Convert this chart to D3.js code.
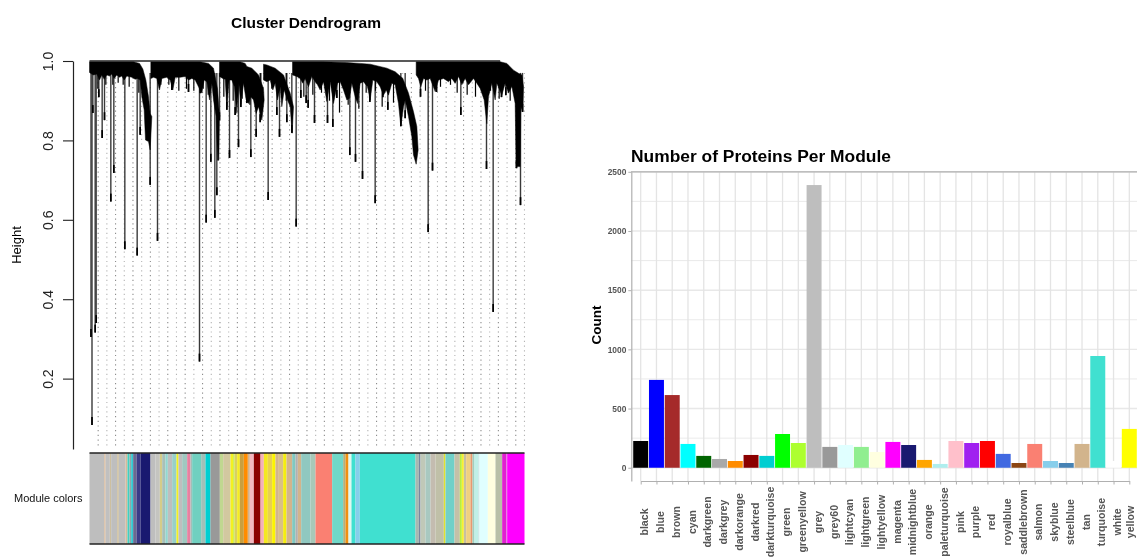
<!DOCTYPE html>
<html>
<head>
<meta charset="utf-8">
<script src="https://cdn.jsdelivr.net/npm/d3@7"></script>
<style>
  body { margin: 0; background: #fff; font-family: "Liberation Sans", sans-serif; }
  svg { display: block; filter: blur(0.35px); }
</style>
</head>
<body>
<svg id="chart" width="1137" height="557"></svg>
<script>
// module counts (right panel)
const modules = ["black","blue","brown","cyan","darkgreen","darkgrey","darkorange","darkred","darkturquoise","green","greenyellow","grey","grey60","lightcyan","lightgreen","lightyellow","magenta","midnightblue","orange","paleturquoise","pink","purple","red","royalblue","saddlebrown","salmon","skyblue","steelblue","tan","turquoise","white","yellow"]
const counts = [226,742,614,201,100,74,57,108,100,285,209,2388,176,192,176,133,218,192,66,32,226,209,226,117,40,201,57,40,201,944,57,328]
const countTicks = [0,500,1000,1500,2000,2500]
const countMinor = [250,750,1250,1750,2250]

// dendrogram: long and short drops, leaf position and lowest height
const dropLeaf = [4.5,7.5,10,17,20,28,38,45,64,73,106,143,152,182,204,247,297,332,330,350,364,376,382,390,412,420,437,447,454,472,484,500,512,536,562,570,592,607,620,634,650,656,675,714,730,742,781,798,819,841,857,880,895,934,947,993,1016,1029,1041,1114,1191,1211,1236,1249,1281,1293,1299]
const dropHeight = [.305,.083,.869,.316,.34,.909,.806,.851,.646,.718,.526,.51,.814,.688,.547,.927,.922,.919,.243,.593,.746,.605,.662,.851,.877,.756,.864,.783,.884,.894,.758,.809,.846,.65,.864,.809,.846,.819,.583,.907,.894,.882,.844,.844,.834,.907,.763,.746,.703,.897,.642,.909,.877,.836,.856,.91,.569,.724,.922,.864,.728,.368,.909,.914,.73,.637,.872]

// very short spikes under the black band
const spikeLeaf = [25,49,70,86,101,119,148,214,238,268,291,313,341,356,403,431,458,481,514,547,568,590,643,670,696,720,750,776,808,830,858,878,912,1008,1053,1083,1103,1133,1158,1203,1229,1262]
const spikeHeight = [.93,.94,.94,.945,.94,.935,.92,.94,.94,.925,.93,.925,.93,.915,.91,.9,.905,.89,.9,.93,.925,.9,.91,.915,.92,.9,.87,.89,.88,.92,.925,.885,.895,.925,.935,.94,.92,.915,.91,.925,.905,.9]

// dendrogram: outline of each black cluster, leaf position and height
const clusterALeaf = [0,0,7,12,22,30,37,44,52,60,67,74,82,90,97,104,112,127,137,144,152,157,164,168,177,182,187,182,177,169,160,150,132]
const clusterAHeight = [.998,.971,.967,.965,.967,.952,.965,.954,.965,.962,.967,.956,.965,.959,.962,.952,.962,.959,.954,.956,.952,.91,.877,.801,.797,.776,.86,.868,.91,.952,.98,.994,.998]
const clusterBLeaf = [184,184,192,202,210,217,232,242,250,257,272,287,297,307,317,327,337,344,352,360,367,372,380,384,388,390,384,372,357,332]
const clusterBHeight = [.998,.956,.959,.956,.927,.956,.959,.952,.927,.959,.959,.961,.952,.956,.952,.935,.919,.952,.948,.902,.944,.902,.86,.75,.75,.86,.93,.982,.994,.998]
const clusterCLeaf = [390,390,400,407,412,419,427,435,442,448,454,462,470,477,484,492,500,507,517,524,522,507,487,472,467,452]
const clusterCHeight = [.998,.961,.956,.954,.885,.952,.952,.935,.868,.944,.891,.944,.902,.893,.91,.902,.868,.885,.851,.902,.931,.965,.982,.986,.994,.998]
const clusterDLeaf = [522,522,532,542,550,557,564,572,577,584,594,602,608,612,602,582,557,532]
const clusterDHeight = [.992,.952,.948,.952,.927,.944,.902,.935,.885,.927,.902,.885,.818,.885,.919,.965,.982,.99]
const clusterELeaf = [609,609,622,632,640,647,657,667,677,684,692,702,712,722,732,744,752,762,772,780,787,797,804,812,822,834,842,850,862,872,882,890,897,907,917,927,934,942,947,957,967,972,980,986,982,972,957,940,917,892,842,812,772,700]
const clusterEHeight = [.998,.965,.961,.956,.944,.956,.935,.961,.948,.94,.927,.948,.898,.948,.893,.944,.948,.927,.902,.906,.944,.91,.893,.944,.948,.935,.902,.952,.948,.935,.914,.927,.914,.944,.94,.893,.835,.885,.902,.86,.809,.763,.74,.776,.835,.872,.919,.956,.973,.982,.992,.994,.996,.998]
const clusterFLeaf = [980,980,987,994,1002,1012,1022,1037,1047,1062,1077,1087,1097,1107,1117,1127,1137,1152,1162,1172,1184,1192,1197,1207,1217,1222,1237,1247,1257,1267,1277,1280,1292,1294,1300,1302,1297,1287,1272,1252,1232]
const clusterFHeight = [.998,.965,.956,.935,.956,.952,.956,.923,.952,.956,.948,.956,.944,.961,.94,.956,.94,.956,.944,.931,.902,.842,.91,.944,.902,.944,.914,.944,.919,.936,.893,.734,.734,.885,.872,.936,.965,.969,.977,.994,.998]

// module colour strip under the dendrogram, in leaf order
const stripColors = ["#bebebe","#e0b080","#c0c0c0","#cdbf9f","#bebebe","#cfc09c","#bebebe","#d4b99b","#40d0c0","#8fa8a8","#30c8d0","#6a6a90","#3a3a88","midnightblue","#bebebe","#c4c4c0","#d4cc88","#a8c0b8","#90d8d0","#bebebe","#98d0c8","#f2f020","#bebebe","#a0c8c0","#e880a0","#a0c0b8","#70d0c0","#a0c0b8","darkturquoise","#999999","#c0d890","#d2c8a0","#f4f020","#c8f040","#d8d060","#f4ec20","#c8a040","darkorange","#d2b48c","#f4b8c0","darkred","#f4b0b8","#f4e820","#e8d050","#fcf400","#d2b48c","#d8c088","#f4ec10","tan","#80c8c0","#b0b0b0","#d2b48c","#90c8c0",
  "#a8c8b8","salmon","#70d8c8","#b0b080","#f09010","#e0f8f0","turquoise","skyblue","turquoise","#a8b8b0","#7888a0","#c0c8b8","#a8c8c0","#c4bcb0","#c0c0a8","#e0e030","#70d0c8","#c4c0a8","#b8f040","#f8f030","#c8c0a0","#f0d080","#e89870","#a0d0c0","#c0f0e8","#c8e8e8","lightcyan","lightyellow","#b8c0a8","#e020d0","#e070e0","magenta"]
const stripLeaves = [45,3,13,4,18,5,20,6,6,5,6,10,12,30,15,13,7,10,7,13,13,6,11,15,10,5,27,13,15,28,10,22,8,4,8,8,12,12,6,12,20,10,12,13,10,10,13,10,17,10,7,10,28,
  15,50,33,7,9,9,12,13,167,10,5,15,15,15,25,5,27,16,6,6,7,13,6,6,11,4,25,23,20,13,2,52]
const heightTicks = [.2,.4,.6,.8,1]

const svg = d3.select("#chart")

// R colour names differ from the css ones for a few modules
const barColor = d3.scaleOrdinal().domain(modules).range(modules.map(function(m) {
  if (m == "green") return "#00ff00"
  if (m == "grey") return "#bebebe"
  if (m == "grey60") return "#999999"
  if (m == "purple") return "#a020f0"
  if (m == "brown") return "#a52a2a"
  if (m == "orange") return "#ffa500"
  return m
}))

// ---- left: dendrogram ----
const totalLeaves = d3.sum(stripLeaves)
const leafX = d3.scaleLinear().domain([0, totalLeaves]).range([89.5, 524.5])
const heightY = d3.scaleLinear().domain([.0227, 1]).range([449, 61])

svg.append("text").attr("x", 306).attr("y", 28).attr("text-anchor", "middle")
  .style("font-size", "15.5px").style("font-weight", "bold").text("Cluster Dendrogram")
svg.append("text").attr("transform", "translate(21,245) rotate(-90)").attr("text-anchor", "middle")
  .style("font-size", "13px").text("Height")

const hAxis = svg.append("g").attr("transform", "translate(73,0)")
  .call(d3.axisLeft(heightY).tickValues(heightTicks).tickSize(10).tickSizeOuter(0).tickFormat(d3.format(".1f")))
hAxis.select(".domain").attr("stroke", "#222").attr("stroke-width", 1.2)
hAxis.selectAll(".tick line").attr("stroke", "#222").attr("stroke-width", 1.1)
hAxis.selectAll(".tick text").attr("transform", "rotate(-90)")
  .attr("x", 0).attr("y", -20).attr("dy", 0).attr("text-anchor", "middle")
  .style("font-size", "14px").style("font-family", "'Liberation Sans'").attr("fill", "#222")

// dotted guide lines from each group of leaves down to the strip
const guides = d3.range(26, totalLeaves, 26.1)
svg.append("g").selectAll("line").data(guides).enter().append("line")
  .attr("x1", d => leafX(d)).attr("x2", d => leafX(d))
  .attr("y1", heightY(.97)).attr("y2", 449)
  .attr("stroke", (d, i) => i % 2 ? "#b4b4b4" : "#8c8c8c")
  .attr("stroke-width", 1.1).attr("stroke-dasharray", "1.2 3.5")

const clusterLine = d3.line().x(d => leafX(d[0])).y(d => heightY(d[1]))
const clusters = [
  [clusterALeaf, clusterAHeight], [clusterBLeaf, clusterBHeight], [clusterCLeaf, clusterCHeight],
  [clusterDLeaf, clusterDHeight], [clusterELeaf, clusterEHeight], [clusterFLeaf, clusterFHeight]
]

// long drops: dark stem with a black tip
const drops = dropLeaf.map((d, i) => ({leaf: d, height: dropHeight[i]}))
const dropG = svg.append("g")
dropG.selectAll("line.stem").data(drops).enter().append("line").attr("class", "stem")
  .attr("x1", d => leafX(d.leaf)).attr("x2", d => leafX(d.leaf))
  .attr("y1", heightY(.97)).attr("y2", d => heightY(d.height))
  .attr("stroke", "#3a3a3a").attr("stroke-width", 1.4)
dropG.selectAll("line.tip").data(drops).enter().append("line").attr("class", "tip")
  .attr("x1", d => leafX(d.leaf)).attr("x2", d => leafX(d.leaf))
  .attr("y1", d => heightY(d.height + .02)).attr("y2", d => heightY(d.height))
  .attr("stroke", "#000").attr("stroke-width", 1.7)

// short spikes, drawn as plain black lines
svg.append("g").selectAll("line").data(spikeLeaf).enter().append("line")
  .attr("x1", d => leafX(d)).attr("x2", d => leafX(d))
  .attr("y1", heightY(.97)).attr("y2", (d, i) => heightY(spikeHeight[i]))
  .attr("stroke", "#000").attr("stroke-width", 1.2)

svg.append("g").selectAll("path").data(clusters).enter().append("path")
  .attr("d", c => clusterLine(c[0].map((l, i) => [l, c[1][i]])) + "Z")
  .attr("fill", "#000").attr("stroke", "#000").attr("stroke-width", .5)

// top join line across the clusters
svg.append("line").attr("x1", leafX(0)).attr("x2", leafX(1232))
  .attr("y1", heightY(1)).attr("y2", heightY(1))
  .attr("stroke", "#222").attr("stroke-width", 1.4)

// module colour strip
let cum = 0
const stripData = stripLeaves.map(function(n, i) {
  const row = {start: cum, n: n, color: stripColors[i]}
  cum += n
  return row
})
svg.append("g").selectAll("rect").data(stripData).enter().append("rect")
  .attr("x", d => leafX(d.start)).attr("width", d => leafX(d.start + d.n) - leafX(d.start))
  .attr("y", 453).attr("height", 91).attr("fill", d => d.color)
svg.selectAll("line.strip").data([453, 544]).enter().append("line").attr("class", "strip")
  .attr("x1", leafX(0)).attr("x2", leafX(totalLeaves)).attr("y1", d => d).attr("y2", d => d)
  .attr("stroke", "#222").attr("stroke-width", 1.4)
svg.append("text").attr("x", 14).attr("y", 502)
  .style("font-size", "11px").attr("fill", "#111").text("Module colors")

// ---- right: proteins per module ----
const moduleX = d3.scalePoint().domain(modules).range([640.7, 1129.3])
const countY = d3.scaleLinear().domain([-112, 2500]).range([481, 171.8])
const barW = moduleX.step() * .95

svg.append("text").attr("x", 631).attr("y", 162)
  .style("font-size", "17.4px").style("font-weight", "bold").text("Number of Proteins Per Module")
svg.append("text").attr("transform", "translate(601,325) rotate(-90)").attr("text-anchor", "middle")
  .style("font-size", "13.5px").style("font-weight", "bold").text("Count")

const grid = svg.append("g")
grid.selectAll("line.minor").data(countMinor).enter().append("line").attr("class", "minor")
  .attr("x1", 631).attr("x2", 1137).attr("y1", d => countY(d)).attr("y2", d => countY(d))
  .attr("stroke", "#e4e4e4").attr("stroke-width", .8)
grid.selectAll("line.major").data(countTicks).enter().append("line").attr("class", "major")
  .attr("x1", 631).attr("x2", 1137).attr("y1", d => countY(d)).attr("y2", d => countY(d))
  .attr("stroke", "#e8e8e8").attr("stroke-width", 1.4)
grid.selectAll("line.vert").data(modules).enter().append("line").attr("class", "vert")
  .attr("x1", d => moduleX(d)).attr("x2", d => moduleX(d)).attr("y1", 171.8).attr("y2", 481)
  .attr("stroke", "#e4e4e4").attr("stroke-width", 1.3)

svg.append("g").selectAll("rect").data(modules).enter().append("rect")
  .attr("x", d => moduleX(d) - barW / 2).attr("width", barW)
  .attr("y", (d, i) => countY(counts[i])).attr("height", (d, i) => countY(0) - countY(counts[i]))
  .attr("fill", d => barColor(d))

const yAxis = svg.append("g").attr("transform", "translate(631.3,0)")
  .call(d3.axisLeft(countY).tickValues(countTicks).tickSize(3).tickSizeOuter(0).tickFormat(d3.format("d")))
yAxis.select(".domain").attr("stroke", "#b0b0b0").attr("stroke-width", 1.2)
yAxis.selectAll(".tick line").attr("stroke", "#b0b0b0")
yAxis.selectAll(".tick text").attr("x", -5).attr("fill", "#555")
  .style("font-size", "8.4px").style("font-weight", "bold").style("font-family", "'Liberation Sans'")

const xAxis = svg.append("g").attr("transform", "translate(0,481)")
  .call(d3.axisBottom(moduleX).tickSize(3.5).tickSizeOuter(0))
xAxis.select(".domain").attr("stroke", "#b0b0b0").attr("stroke-width", 1.2)
xAxis.selectAll(".tick line").attr("stroke", "#b0b0b0")
// last label is pulled in a little so it stays inside the window
xAxis.selectAll(".tick text").attr("transform", "rotate(-90)")
  .attr("x", -41).attr("y", d => d == "yellow" ? 4.6 : 7.2).attr("dy", 0).attr("text-anchor", "middle").attr("fill", "#555")
  .style("font-size", "10.6px").style("font-weight", "bold").style("font-family", "'Liberation Sans'")

// top edge of the panel
svg.append("line").attr("x1", 631).attr("x2", 1137).attr("y1", 171.8).attr("y2", 171.8)
  .attr("stroke", "#b0b0b0").attr("stroke-width", 1.2)
</script>
</body>
</html>
